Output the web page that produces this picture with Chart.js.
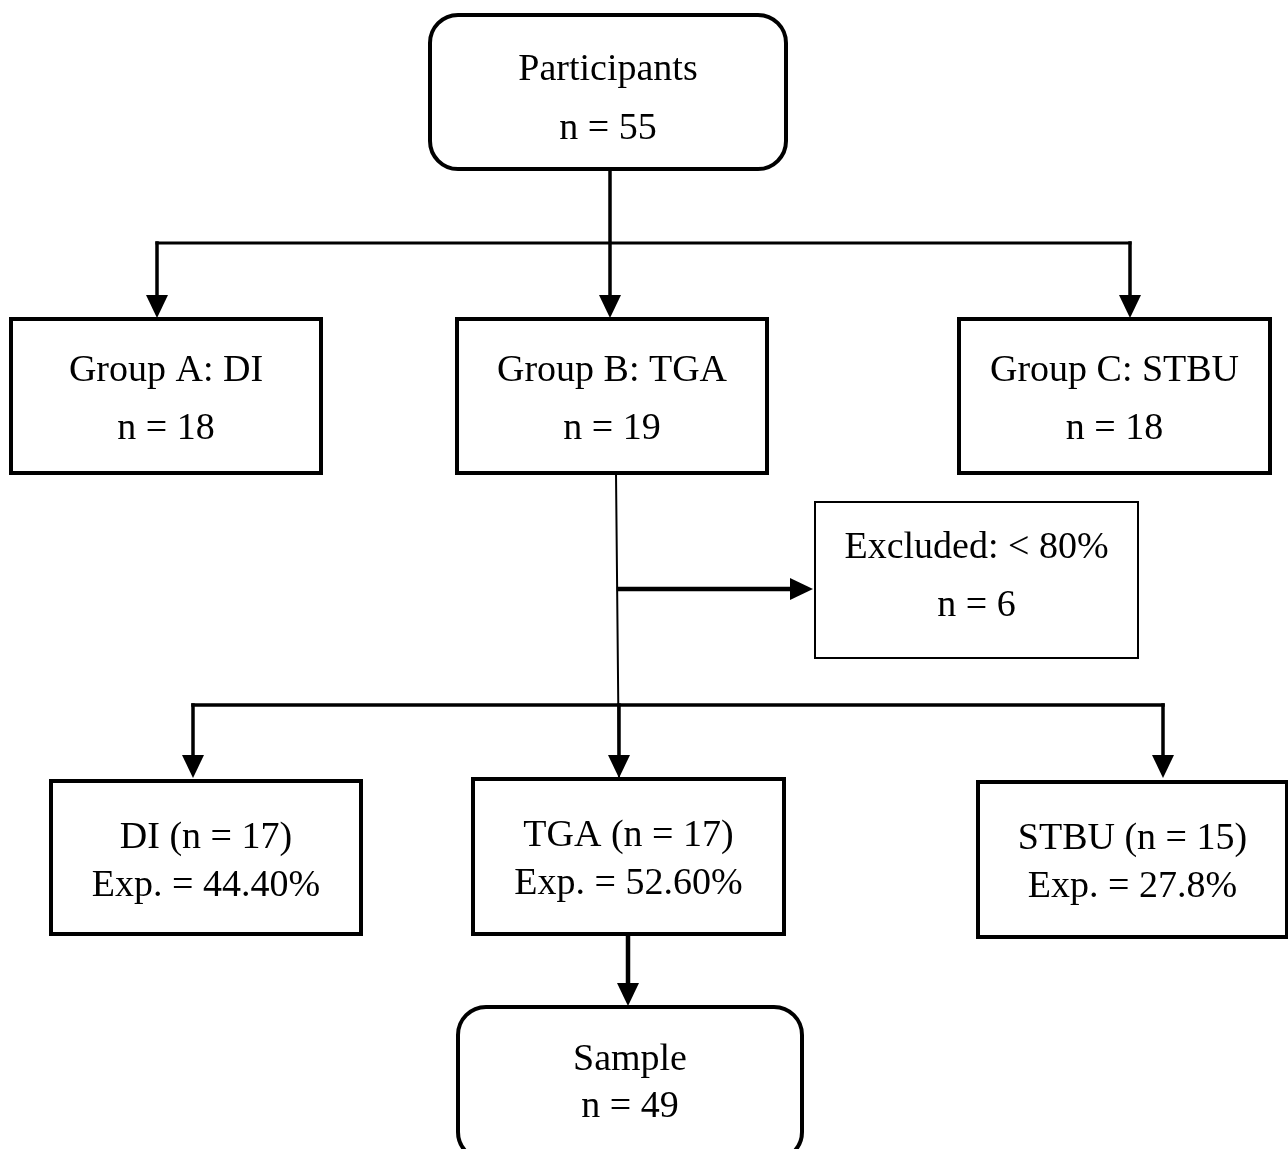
<!DOCTYPE html>
<html>
<head>
<meta charset="utf-8">
<script src="https://cdn.jsdelivr.net/npm/chart.js@4/dist/chart.umd.min.js"></script>
<style>
  html, body { margin: 0; padding: 0; background: #fff; }
  #wrap { width: 1288px; height: 1149px; }
</style>
</head>
<body>
<div id="wrap"><canvas id="flowChart" width="1288" height="1149"></canvas></div>
<script>
// --- Données du diagramme ---
const nodeTitles = ['Participants', 'Group A: DI', 'Group B: TGA', 'Group C: STBU', 'Excluded: < 80%', 'DI', 'TGA', 'STBU', 'Sample'];
const nodeCounts = [55, 18, 19, 18, 6, 17, 17, 15, 49];
const expRates = [null, null, null, null, null, '44.40%', '52.60%', '27.8%', null];

// --- Mise en page (unités du repère x 0..1288, y 0..1149) ---
// [x gauche, y haut, x droite, y bas]
const boxes = [
    [430, 15, 786, 169],
    [11, 319, 321, 473],
    [457, 319, 767, 473],
    [959, 319, 1270, 473],
    [815, 502, 1138, 658],
    [51, 781, 361, 934],
    [473, 779, 784, 934],
    [978, 782, 1287, 937],
    [458, 1007, 802, 1160]
];
const boxStyle = ['round', 'rect', 'rect', 'rect', 'thin', 'rect', 'rect', 'rect', 'round'];

// segments : [x1, y1, x2, y2, épaisseur, flèche]
const links = [
    [610, 169, 610, 318, 3.5, true],
    [157, 243, 1130, 243, 3, false],
    [157, 243, 157, 318, 3.5, true],
    [1130, 243, 1130, 318, 3.5, true],
    [616, 473, 619, 778, 2, false],
    [619, 589, 813, 589, 4.5, true],
    [193, 705, 1163, 705, 3.5, false],
    [193, 705, 193, 778, 3.5, true],
    [619, 705, 619, 778, 3.5, true],
    [1163, 705, 1163, 778, 3.5, true],
    [628, 934, 628, 1006, 4.5, true]
];

function nodeLines(i) {
    if (expRates[i]) {
        return [nodeTitles[i] + ' (n = ' + nodeCounts[i] + ')', 'Exp. = ' + expRates[i]];
    }
    return [nodeTitles[i], 'n = ' + nodeCounts[i]];
}

const flowPlugin = {
    id: 'flowPlugin',
    afterDatasetsDraw(chart) {
        const ctx = chart.ctx;
        const sx = chart.scales.x, sy = chart.scales.y;
        const px = v => sx.getPixelForValue(v);
        const py = v => sy.getPixelForValue(v);
        ctx.save();
        ctx.strokeStyle = '#000';
        ctx.fillStyle = '#000';
        ctx.lineCap = 'square';

        // liens et flèches
        links.forEach(l => {
            const x1 = px(l[0]), y1 = py(l[1]), x2 = px(l[2]), y2 = py(l[3]);
            ctx.lineWidth = l[4];
            const ang = Math.atan2(y2 - y1, x2 - x1);
            const head = l[5] ? 23 : 0;
            ctx.beginPath();
            ctx.moveTo(x1, y1);
            ctx.lineTo(x2 - Math.cos(ang) * head, y2 - Math.sin(ang) * head);
            ctx.stroke();
            if (l[5]) {
                ctx.beginPath();
                ctx.moveTo(x2, y2);
                ctx.lineTo(x2 - Math.cos(ang) * head - Math.sin(ang) * 11, y2 - Math.sin(ang) * head + Math.cos(ang) * 11);
                ctx.lineTo(x2 - Math.cos(ang) * head + Math.sin(ang) * 11, y2 - Math.sin(ang) * head - Math.cos(ang) * 11);
                ctx.closePath();
                ctx.fill();
            }
        });

        // boîtes
        boxes.forEach((b, i) => {
            const x = px(b[0]), y = py(b[1]), w = px(b[2]) - x, h = py(b[3]) - y;
            ctx.fillStyle = '#fff';
            ctx.beginPath();
            if (boxStyle[i] === 'round') {
                ctx.roundRect(x, y, w, h, 28);
                ctx.lineWidth = 4;
            } else {
                ctx.rect(x, y, w, h);
                ctx.lineWidth = boxStyle[i] === 'thin' ? 2 : 4;
            }
            ctx.fill();
            ctx.stroke();

            // texte
            ctx.fillStyle = '#000';
            ctx.font = '38px "Liberation Serif", serif';
            ctx.textAlign = 'center';
            ctx.textBaseline = 'middle';
            const lines = nodeLines(i);
            const cx = x + w / 2;
            let t1, t2;
            if (i === 0) { t1 = py(70); t2 = py(129); }
            else if (i === 4) { t1 = py(548); t2 = py(606); }
            else if (i >= 5 && i <= 7) { t1 = py(b[1] + 57); t2 = py(b[1] + 105); }
            else if (i === 8) { t1 = py(1060); t2 = py(1107); }
            else { t1 = py(b[1] + 52); t2 = py(b[1] + 110); }
            ctx.fillText(lines[0], cx, t1);
            ctx.fillText(lines[1], cx, t2);
        });
        ctx.restore();
    }
};

const centers = boxes.map(b => ({ x: (b[0] + b[2]) / 2, y: (b[1] + b[3]) / 2 }));

new Chart(document.getElementById('flowChart').getContext('2d'), {
    type: 'scatter',
    data: {
        datasets: [{
            data: centers,
            pointRadius: 0
        }]
    },
    options: {
        responsive: false,
        animation: false,
        layout: { padding: 0 },
        plugins: { legend: { display: false }, tooltip: { enabled: false } },
        scales: {
            x: { type: 'linear', min: 0, max: 1288, display: false },
            y: { type: 'linear', min: 0, max: 1149, reverse: true, display: false }
        }
    },
    plugins: [flowPlugin]
});
</script>
</body>
</html>
